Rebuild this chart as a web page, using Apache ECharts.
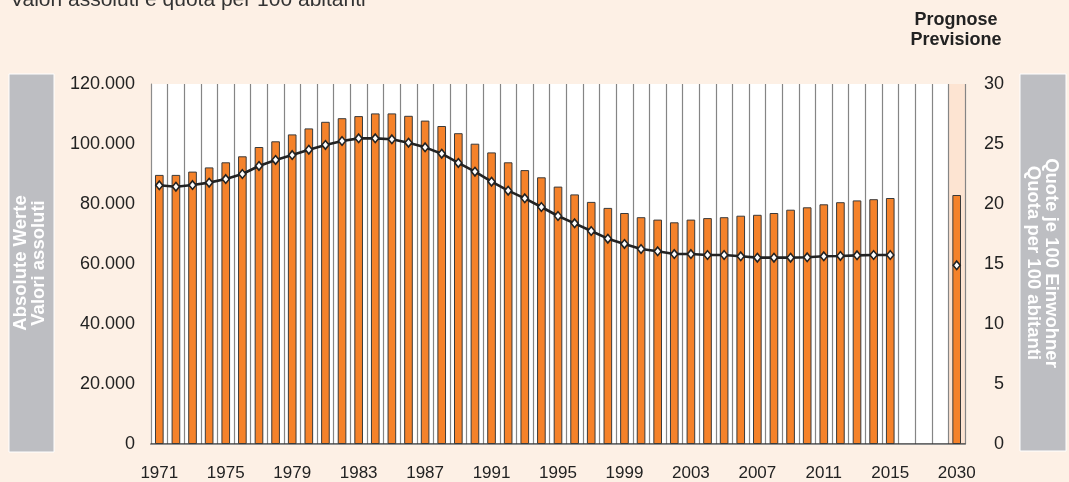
<!DOCTYPE html>
<html>
<head>
<meta charset="utf-8">
<script src="https://cdn.jsdelivr.net/npm/echarts@6/dist/echarts.min.js"></script>
<style>
html,body{margin:0;padding:0;background:#fdf0e5;}
#c{width:1069px;height:482px;}
</style>
</head>
<body>
<div id="c"></div>
<script>
const categories = ['1971','1972','1973','1974','1975','1976','1977','1978','1979','1980',
  '1981','1982','1983','1984','1985','1986','1987','1988','1989','1990',
  '1991','1992','1993','1994','1995','1996','1997','1998','1999','2000',
  '2001','2002','2003','2004','2005','2006','2007','2008','2009','2010',
  '2011','2012','2013','2014','2015',' ','  ','   ','2030'];
const absoluteValues = [89700,89700,90800,92200,93900,95900,99000,100900,103200,105200,
  107400,108600,109300,110200,110200,109400,107800,106000,103600,100100,
  97200,93900,91300,88900,85800,83200,80700,78700,77000,75600,
  74800,73900,74800,75300,75600,76100,76400,77000,78100,78900,
  79900,80600,81200,81600,82000,null,null,null,83000];
const quotaPer100 = [21.56,21.44,21.58,21.78,22.08,22.5,23.17,23.67,24.08,24.53,
  24.92,25.25,25.47,25.47,25.39,25.11,24.72,24.19,23.42,22.69,
  21.86,21.11,20.47,19.75,19.0,18.39,17.75,17.11,16.67,16.25,
  16.06,15.83,15.83,15.75,15.75,15.64,15.53,15.53,15.53,15.56,
  15.64,15.67,15.72,15.75,15.75,null,null,null,14.89];
const leftTicks = [0,20000,40000,60000,80000,100000,120000];
const rightTicks = [0,5,10,15,20,25,30];
const titleText = 'Valori assoluti e quota per 100 abitanti';
const forecastText = ['Prognose','Previsione'];
const leftAxisTitle = ['Absolute Werte','Valori assoluti'];
const rightAxisTitle = ['Quote je 100 Einwohner','Quota per 100 abitanti'];

const FONT = '"Liberation Sans", Arial, sans-serif';
function fmtThousands(v){ return String(v).replace(/\B(?=(\d{3})+(?!\d))/g,'.'); }
const areaColors = categories.map((c,i)=> i===categories.length-1 ? '#fde4d2' : '#ffffff');

const chart = echarts.init(document.getElementById('c'), null, {renderer:'canvas'});
chart.setOption({
  backgroundColor:'#fdf0e5',
  animation:false,
  textStyle:{fontFamily:FONT},
  grid:{left:151,right:104,top:84,bottom:38,containLabel:false},
  graphic:[
    {type:'text',x:10,y:0,style:{text:titleText,font:'21px '+FONT,fill:'#333',align:'left',verticalAlign:'middle'}},
    {type:'text',x:956,y:20,style:{text:forecastText[0],font:'bold 18px '+FONT,fill:'#222',align:'center',verticalAlign:'middle'}},
    {type:'text',x:956,y:40.5,style:{text:forecastText[1],font:'bold 18px '+FONT,fill:'#222',align:'center',verticalAlign:'middle'}},
    {type:'rect',shape:{x:9,y:74,width:45,height:378},style:{fill:'#bdbec2',stroke:'#ffffff',lineWidth:1}},
    {type:'rect',shape:{x:1020,y:74,width:46,height:377},style:{fill:'#bdbec2',stroke:'#ffffff',lineWidth:1}},
    {type:'text',x:30,y:263,rotation:Math.PI/2,style:{text:leftAxisTitle.join('\n'),font:'bold 18.5px '+FONT,fill:'#ffffff',align:'center',verticalAlign:'middle',lineHeight:17.5}},
    {type:'text',x:1042,y:263,rotation:-Math.PI/2,style:{text:rightAxisTitle.join('\n'),font:'bold 18.5px '+FONT,fill:'#ffffff',align:'center',verticalAlign:'middle',lineHeight:17.5}}
  ],
  xAxis:[
    {type:'category',data:categories,boundaryGap:true,
     axisLine:{show:true,lineStyle:{color:'#3a3a3a',width:1.5}},
     axisTick:{show:false,interval:0},
     axisLabel:{interval:3,margin:21,fontSize:17,color:'#222',fontFamily:FONT},
     splitLine:{show:true,interval:0,lineStyle:{color:'#858585',width:1.2}},
     splitArea:{show:true,interval:0,areaStyle:{color:areaColors,opacity:1}}},
    {type:'category',data:categories,position:'top',boundaryGap:true,
     axisLine:{show:true,lineStyle:{color:'#8c8c8c',width:1}},
     axisTick:{show:false},axisLabel:{show:false},splitLine:{show:false}}
  ],
  yAxis:[
    {type:'value',min:leftTicks[0],max:leftTicks[leftTicks.length-1],interval:leftTicks[1]-leftTicks[0],
     axisLine:{show:true,lineStyle:{color:'#8c8c8c',width:1}},axisTick:{show:false},
     splitLine:{show:false},
     axisLabel:{margin:16,fontSize:18,color:'#222',fontFamily:FONT,formatter:fmtThousands}},
    {type:'value',min:rightTicks[0],max:rightTicks[rightTicks.length-1],interval:rightTicks[1]-rightTicks[0],
     position:'right',axisLine:{show:false},axisTick:{show:false},splitLine:{show:false},
     axisLabel:{margin:39,align:'right',fontSize:18,color:'#222',fontFamily:FONT}}
  ],
  series:[
    {type:'bar',xAxisIndex:0,yAxisIndex:0,data:absoluteValues,barWidth:'52%',
     itemStyle:{color:'#f5822a',borderColor:'#3a3a3a',borderWidth:1}},
    {type:'line',xAxisIndex:0,yAxisIndex:1,data:quotaPer100,connectNulls:false,z:5,
     symbol:'diamond',symbolSize:[7,8.5],showSymbol:true,
     lineStyle:{color:'#222',width:2.6},
     itemStyle:{color:'#ffffff',borderColor:'#222',borderWidth:1.6}}
  ]
});
</script>
</body>
</html>
